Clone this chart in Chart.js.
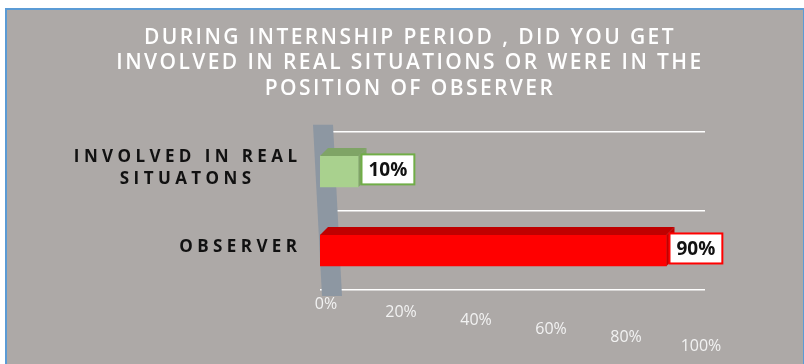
<!DOCTYPE html>
<html>
<head>
<meta charset="utf-8">
<script src="https://cdn.jsdelivr.net/npm/chart.js@4"></script>
<style>
  html, body { margin: 0; padding: 0; background: #fff; }
  #wrap { width: 804px; height: 364px; }
</style>
</head>
<body>
<div id="wrap"><canvas id="myChart" width="804" height="364"></canvas></div>
<script>
// data
const titleLines = ['DURING INTERNSHIP PERIOD , DID YOU GET', 'INVOLVED IN REAL SITUATIONS OR WERE IN THE', 'POSITION OF OBSERVER'];
const categories = [['INVOLVED IN REAL', 'SITUATONS'], 'OBSERVER'];
const shares = [10, 90];
const tickValues = [0, 20, 40, 60, 80, 100];

// colours
const frontColors = ['#A9D18E', '#FF0000'];
const depthColors = ['#7FA466', '#C00000'];
const boxBorders = ['#70AD47', '#FF0000'];
const panelGray = '#ADA9A7';

const ctx = document.getElementById('myChart').getContext('2d');

// panel with blue left/top edge
const panelPlugin = {
    id: 'panel',
    beforeDraw(chart) {
        const c = chart.ctx;
        c.save();
        c.fillStyle = '#fff';
        c.fillRect(0, 0, chart.width, chart.height);
        c.fillStyle = '#5B9BD5';
        c.fillRect(5, 8, chart.width - 5, chart.height - 8);
        c.fillStyle = panelGray;
        c.fillRect(7, 10, chart.width - 8, chart.height - 10);
        c.restore();
        // title spacing
        c.letterSpacing = '2.4px';
    }
};

// left side wall behind the bars
const wallPlugin = {
    id: 'wall',
    beforeDatasetsDraw(chart) {
        const c = chart.ctx;
        const a = chart.chartArea;
        c.save();
        c.letterSpacing = '0px';
        c.fillStyle = '#8D97A2';
        c.beginPath();
        c.moveTo(a.left - 7, a.top - 7);
        c.lineTo(a.left + 13, a.top - 7);
        c.lineTo(a.left + 22, a.bottom + 6);
        c.lineTo(a.left + 2, a.bottom + 6);
        c.closePath();
        c.fill();
        c.restore();
    }
};

// top and end faces of the bars plus the value boxes
const depthPlugin = {
    id: 'depth',
    afterDatasetsDraw(chart) {
        const c = chart.ctx;
        const meta = chart.getDatasetMeta(0);
        const d = 8;
        c.save();
        c.letterSpacing = '0px';
        meta.data.forEach((bar, i) => {
            const top = bar.y - bar.height / 2;
            const bottom = bar.y + bar.height / 2;
            c.fillStyle = depthColors[i];
            c.beginPath();
            c.moveTo(bar.base, top);
            c.lineTo(bar.base + d, top - d);
            c.lineTo(bar.x + d, top - d);
            c.lineTo(bar.x, top);
            c.closePath();
            c.fill();
            c.beginPath();
            c.moveTo(bar.x, top);
            c.lineTo(bar.x + d, top - d);
            c.lineTo(bar.x + d, bottom - d);
            c.lineTo(bar.x, bottom);
            c.closePath();
            c.fill();

            const text = shares[i] + '%';
            c.font = 'bold 19px "Open Sans"';
            const w = c.measureText(text).width + 14;
            const h = 30;
            const bx = bar.x + 3;
            const by = bar.y - h / 2 - 2;
            c.fillStyle = '#fff';
            c.fillRect(bx, by, w, h);
            c.strokeStyle = boxBorders[i];
            c.lineWidth = 2;
            c.strokeRect(bx, by, w, h);
            c.fillStyle = '#111';
            c.textAlign = 'center';
            c.textBaseline = 'middle';
            c.fillText(text, bx + w / 2, by + h / 2 + 1);
        });
        c.restore();
    }
};

// category names and stepped percent labels
const labelPlugin = {
    id: 'labels',
    afterDraw(chart) {
        const c = chart.ctx;
        const y = chart.scales.y;
        const x = chart.scales.x;
        const spacing = 4.4;
        c.save();
        c.textBaseline = 'middle';

        c.font = 'bold 17px "Open Sans"';
        c.letterSpacing = spacing + 'px';
        c.fillStyle = '#111';
        c.textAlign = 'center';
        categories.forEach((cat, i) => {
            const lines = Array.isArray(cat) ? cat : [cat];
            const cy = y.getPixelForValue(i) - 3;
            const blockW = Math.max(...lines.map(ln => c.measureText(ln).width - spacing));
            const cx = 297 - blockW / 2;
            lines.forEach((ln, j) => {
                const ly = cy + (j - (lines.length - 1) / 2) * 22;
                c.fillText(ln, cx + spacing / 2, ly);
            });
        });

        c.font = '16px "Open Sans"';
        c.letterSpacing = '0px';
        c.fillStyle = '#F2F2F2';
        c.textAlign = 'center';
        tickValues.forEach((v, i) => {
            c.fillText(v + '%', x.getPixelForValue(v) + 6 - v * 0.1, chart.chartArea.bottom + 14 + i * 8.4);
        });
        c.restore();
    }
};

new Chart(ctx, {
    type: 'bar',
    data: {
        labels: categories,
        datasets: [{
            data: shares,
            backgroundColor: frontColors,
            borderWidth: 0,
            barThickness: 31
        }]
    },
    options: {
        indexAxis: 'y',
        responsive: false,
        animation: false,
        layout: { padding: { left: 16, right: 0, top: 14, bottom: 74 } },
        plugins: {
            legend: { display: false },
            tooltip: { enabled: false },
            title: {
                display: true,
                text: titleLines,
                color: '#FFFFFF',
                font: { family: '"Open Sans"', size: 21, weight: '600', lineHeight: 1.22 },
                padding: { top: 11, bottom: 30 }
            }
        },
        scales: {
            x: {
                min: 0,
                max: 100,
                display: false
            },
            y: {
                ticks: { display: false },
                border: { display: false },
                grid: { offset: true, color: '#FFFFFF', lineWidth: 1.5, drawTicks: false },
                afterFit(s) { s.width = 304; }
            },
            y2: {
                type: 'category',
                position: 'right',
                labels: categories,
                ticks: { display: false },
                border: { display: false },
                grid: { display: false },
                afterFit(s) { s.width = 99; }
            }
        }
    },
    plugins: [panelPlugin, wallPlugin, depthPlugin, labelPlugin]
});
</script>
</body>
</html>
